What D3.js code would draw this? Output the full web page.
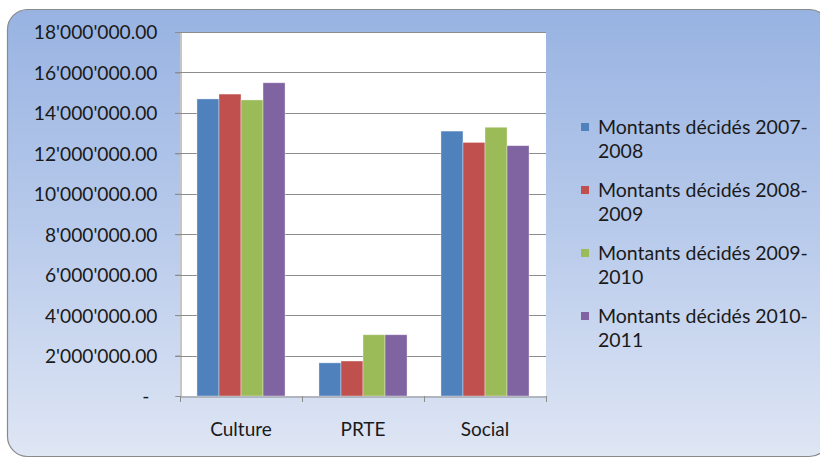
<!doctype html>
<head>
  <style>
    body {
      margin: 0;
      background: #fff;
      font-family: Lato, "Open Sans", sans-serif;
    }
    svg {
      display: block;
    }
  </style>
<script src="https://cdnjs.cloudflare.com/ajax/libs/d3/7.8.5/d3.min.js"></script>
</head>
<body>
<script>

// categories and series
var categories = ["Culture", "PRTE", "Social"];
var seriesNames = [
  "Montants décidés 2007-2008",
  "Montants décidés 2008-2009",
  "Montants décidés 2009-2010",
  "Montants décidés 2010-2011"
];
var culture = [14690000, 14930000, 14640000, 15490000];
var prte = [1640000, 1730000, 3030000, 3030000];
var social = [13100000, 12540000, 13290000, 12380000];
var yTicks = [0, 2000000, 4000000, 6000000, 8000000, 10000000, 12000000, 14000000, 16000000, 18000000];
var colors = ["#4f81bd", "#c0504d", "#9bbb59", "#8064a2"];

var values = [culture, prte, social];

var W = 820, H = 458;
var svg = d3.select("body").append("svg")
  .attr("width", W)
  .attr("height", H);

// background frame with gradient
var defs = svg.append("defs");
var grad = defs.append("linearGradient")
  .attr("id", "bg")
  .attr("x1", 0).attr("y1", 0).attr("x2", 0).attr("y2", 1);
grad.append("stop").attr("offset", "0%").attr("stop-color", "#98b3e2");
grad.append("stop").attr("offset", "55%").attr("stop-color", "#bccdec");
grad.append("stop").attr("offset", "100%").attr("stop-color", "#dfe6f4");

svg.append("rect")
  .attr("x", 7.5)
  .attr("y", 9.5)
  .attr("width", 822)
  .attr("height", 447)
  .attr("rx", 20)
  .attr("fill", "url(#bg)")
  .attr("stroke", "#8a8a8a")
  .attr("stroke-width", 1.2);

var plot = {left: 180, right: 546, top: 32, bottom: 396};

var x0 = d3.scaleBand()
  .domain(categories)
  .range([plot.left, plot.right])
  .paddingInner(0)
  .paddingOuter(0);

var x1 = d3.scaleBand()
  .domain(d3.range(seriesNames.length))
  .range([0, x0.bandwidth()])
  .paddingOuter(0.77)
  .paddingInner(0);

var y = d3.scaleLinear()
  .domain([0, 18000000])
  .range([plot.bottom, plot.top]);

// plot area
svg.append("rect")
  .attr("x", plot.left)
  .attr("y", plot.top)
  .attr("width", plot.right - plot.left)
  .attr("height", plot.bottom - plot.top)
  .attr("fill", "#fff");

function fmt(v) {
  if (v === 0) return "-";
  var s = d3.format(",.2f")(v);
  return s.replace(/,/g, "'");
}

// gridlines
svg.append("g")
  .selectAll("line")
  .data(yTicks.slice(1))
  .enter().append("line")
    .attr("x1", plot.left - 5)
    .attr("x2", plot.right)
    .attr("y1", function(d) { return Math.round(y(d)) + 0.5; })
    .attr("y2", function(d) { return Math.round(y(d)) + 0.5; })
    .attr("stroke", "#8c8c8c")
    .attr("stroke-width", 1);

// y axis via d3 axis
var yAxis = svg.append("g")
  .attr("transform", "translate(" + (plot.left + 0.5) + ",0)")
  .call(d3.axisLeft(y).tickValues(yTicks).tickSize(5).tickPadding(18).tickFormat(fmt));
yAxis.select(".domain").attr("stroke", "#8c8c8c");
yAxis.selectAll(".tick line").attr("stroke", "#8c8c8c");
yAxis.selectAll(".tick text")
  .attr("fill", "#1a1a1a")
  .style("font-family", "Lato, sans-serif")
  .style("font-size", "19.2px")
  .attr("dy", "0.36em");
yAxis.selectAll(".tick")
  .filter(function(d) { return d === 0; })
  .select("text")
  .attr("x", -31);

// bars
var groups = svg.append("g")
  .selectAll("g")
  .data(categories)
  .enter().append("g")
    .attr("transform", function(d) { return "translate(" + x0(d) + ",0)"; });

groups.selectAll("rect")
  .data(function(d, i) { return values[i].map(function(v, j) { return {v: v, s: j}; }); })
  .enter().append("rect")
    .attr("x", function(d) { return x1(d.s); })
    .attr("y", function(d) { return y(d.v); })
    .attr("width", x1.bandwidth())
    .attr("height", function(d) { return y(0) - y(d.v); })
    .attr("fill", function(d) { return colors[d.s]; })
    .attr("stroke", "rgba(255,255,255,0.45)")
    .attr("stroke-width", 0.8);

// x axis
var xAxis = svg.append("g")
  .attr("transform", "translate(0," + (plot.bottom + 0.5) + ")")
  .call(d3.axisBottom(x0).tickSize(0).tickPadding(26));
xAxis.select(".domain").attr("stroke", "#8c8c8c");
xAxis.selectAll(".tick text")
  .attr("fill", "#1a1a1a")
  .style("font-family", "Lato, sans-serif")
  .style("font-size", "19px");

// category boundary ticks
svg.append("g")
  .selectAll("line")
  .data(categories.concat(["end"]))
  .enter().append("line")
    .attr("x1", function(d, i) { return Math.round(plot.left + i * x0.step()) + 0.5; })
    .attr("x2", function(d, i) { return Math.round(plot.left + i * x0.step()) + 0.5; })
    .attr("y1", plot.bottom)
    .attr("y2", plot.bottom + 6)
    .attr("stroke", "#8c8c8c");

// legend
var legend = svg.append("g")
  .selectAll("g")
  .data(seriesNames)
  .enter().append("g")
    .attr("transform", function(d, i) { return "translate(580," + (134 + i * 63) + ")"; });

legend.append("rect")
  .attr("x", 1)
  .attr("y", -11)
  .attr("width", 8)
  .attr("height", 8)
  .attr("fill", function(d, i) { return colors[i]; });

var lt = legend.append("text")
  .attr("x", 18)
  .attr("fill", "#1a1a1a")
  .style("font-family", "Lato, sans-serif")
  .style("font-size", "19.5px");

lt.append("tspan")
  .attr("x", 18)
  .attr("y", 0)
  .text(function(d) { return d.slice(0, d.length - 4); });
lt.append("tspan")
  .attr("x", 18)
  .attr("y", 24)
  .text(function(d) { return d.slice(d.length - 4); });

</script>
</body>
